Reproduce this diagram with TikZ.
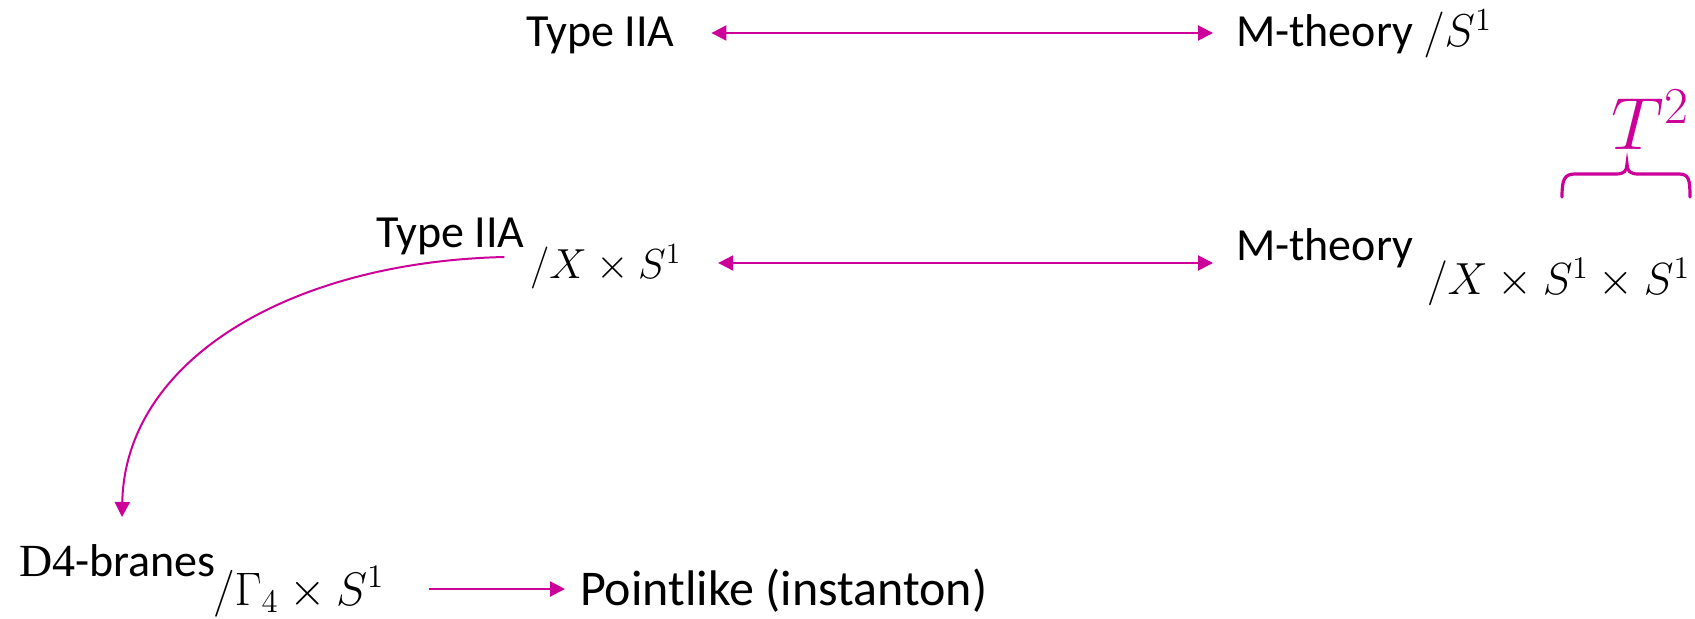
\RequirePackage{fix-cm}
\documentclass[tikz,border=0pt]{standalone}
\usepackage{fontspec}
\setmainfont{Carlito}
\newfontfamily\serifpart{Liberation Serif}
\usetikzlibrary{arrows.meta,calc}
\definecolor{mag}{HTML}{CC0099}
\begin{document}
\begin{tikzpicture}[x=0.5pt,y=-0.5pt,
  lbl/.style={inner sep=0pt, outer sep=0pt, anchor=base west,
    font=\fontsize{23}{28}\selectfont},
  mth/.style={lbl, font=\fontsize{21}{26}\selectfont},
  conn/.style={draw=mag, line width=1pt, -{Triangle[length=7.5pt,width=7.5pt]}},
  both/.style={draw=mag, line width=1pt, {Triangle[length=7.5pt,width=7.5pt]}-{Triangle[length=7.5pt,width=7.5pt]}},
  bracestyle/.style={draw=mag, line width=1.6pt, line cap=round}
]
\useasboundingbox (0,0) rectangle (1695,619);

% labels
\node[lbl] (topA) at (526,47) {Type IIA};
\node[lbl] (topM) at (1236,47) {M-theory $/S^1$};
\node[lbl] (midA) at (376,248) {Type IIA};
\node[mth] (midAx) at (530,279) {$/X\times S^1$};
\node[lbl] (midM) at (1236,261) {M-theory};
\node[mth, font=\fontsize{22.5}{27}\selectfont] (midMx) at (1427,295) {$/X\times S^1\times S^1$};
\node[lbl, anchor=base east, text=mag, font=\fontsize{37}{42}\selectfont] (tsq) at (1689,150) {$T^2$};
\node[lbl] (d4) at (19,576) {{\serifpart D4}-branes};
\node[lbl, font=\fontsize{23.5}{28}\selectfont] (gam) at (213,605) {$/\Gamma_4\times S^1$};
\node[lbl, font=\fontsize{25}{30}\selectfont] (pt) at (580,605) {Pointlike (instanton)};

% connectors
\draw[both] ($(topA.base east)+(37,-14)$) -- ($(topM.base west)+(-23,-14)$);
\draw[both] ($(midAx.base east)+(37,-16)$) -- ($(midM.base west)+(-23,2)$);
\draw[conn] ($(midA.base east)+(-20,9)$) .. controls (290,262) and (125,360) .. ($(d4.base west)+(103,-59)$);
\draw[conn] ($(gam.base east)+(45,-16)$) -- ($(pt.base west)+(-15,-16)$);

% brace over the two circle factors
\draw[bracestyle] (1562,197) .. controls (1562,180) and (1564,174) .. (1575,174)
  -- (1616,174) .. controls (1624,174) and (1627,171) .. (1627,164)
  .. controls (1627,171) and (1630,174) .. (1638,174)
  -- (1679,174) .. controls (1689,174) and (1690,180) .. (1690,197);
\end{tikzpicture}
\end{document}
